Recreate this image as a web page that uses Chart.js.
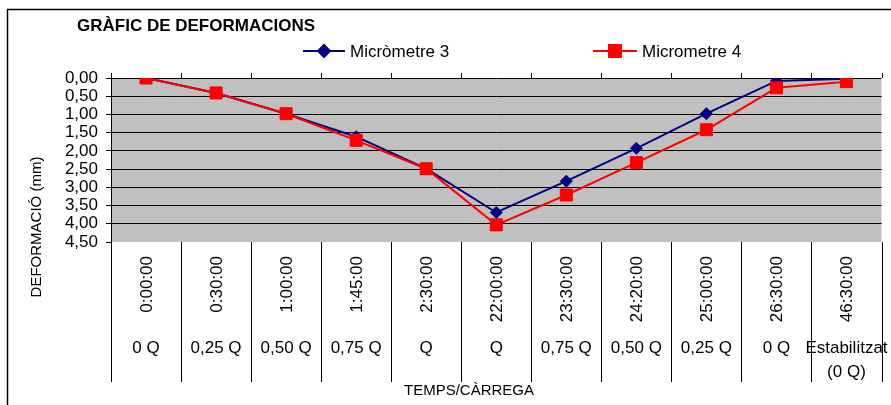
<!DOCTYPE html>
<html>
<head>
<meta charset="utf-8">
<script src="https://cdn.jsdelivr.net/npm/chart.js@4/dist/chart.umd.min.js"></script>
<style>
  html, body { margin:0; padding:0; background:#fff; }
  canvas { display:block; }
</style>
</head>
<body>
<canvas id="chart" width="891" height="405"></canvas>
<script>
// --- DATA ---
const TIMES = ['0:00:00','0:30:00','1:00:00','1:45:00','2:30:00','22:00:00','23:30:00','24:20:00','25:00:00','26:30:00','46:30:00'];
const LOADS = ['0 Q','0,25 Q','0,50 Q','0,75 Q','Q','Q','0,75 Q','0,50 Q','0,25 Q','0 Q',['Estabilitzat','(0 Q)']];
const MICRO3 = [0, 0.41, 0.98, 1.61, 2.49, 3.69, 2.83, 1.93, 0.98, 0.08, 0.02];
const MICRO4 = [0, 0.41, 0.98, 1.71, 2.49, 4.03, 3.21, 2.32, 1.42, 0.27, 0.10];
const Y_MIN = 0, Y_MAX = 4.5, Y_STEP = 0.5;

const FONT = '"Liberation Sans", Arial, sans-serif';
const BLUE = '#000080';
const RED = '#ff0000';

// plot background + custom category labels, titles, legend
const decor = {
  id: 'decor',
  beforeDraw(chart){
    const {ctx, chartArea:a} = chart;
    ctx.save();
    ctx.fillStyle = '#fff';
    ctx.fillRect(0, 0, chart.width, chart.height);
    ctx.fillStyle = '#c0c0c0';
    ctx.fillRect(a.left, a.top, a.right - a.left, a.bottom - a.top);
    ctx.restore();
  },
  afterDraw(chart){
    const {ctx, chartArea:a} = chart;
    const xs = chart.scales.x;
    const half = (xs.getPixelForTick(1) - xs.getPixelForTick(0)) / 2;
    ctx.save();

    // category boundaries: ticks above the plot, separators below
    ctx.strokeStyle = '#000';
    ctx.lineWidth = 1;
    for(let i = 0; i <= TIMES.length; i++){
      const x = Math.round((i < TIMES.length ? xs.getPixelForTick(i) - half : xs.getPixelForTick(i-1) + half)) + 0.5;
      ctx.beginPath();
      ctx.moveTo(x, a.top - 5);
      ctx.lineTo(x, a.top);
      ctx.moveTo(x, a.bottom);
      ctx.lineTo(x, 382);
      ctx.stroke();
    }

    // category labels
    ctx.fillStyle = '#000';
    ctx.font = '17px ' + FONT;
    TIMES.forEach((t, i) => {
      const cx = xs.getPixelForTick(i);
      ctx.save();
      ctx.translate(cx + 1, 256);
      ctx.rotate(-Math.PI/2);
      ctx.textAlign = 'right';
      ctx.textBaseline = 'middle';
      ctx.fillText(t, 0, 0);
      ctx.restore();
      const lines = [].concat(LOADS[i]);
      ctx.textAlign = 'center';
      ctx.textBaseline = 'middle';
      lines.forEach((l, j) => ctx.fillText(l, cx, 348 + j*24));
    });

    // chart title
    ctx.font = 'bold 17px ' + FONT;
    ctx.textAlign = 'left';
    ctx.textBaseline = 'alphabetic';
    ctx.fillText('GRÀFIC DE DEFORMACIONS', 77, 31);

    // axis titles
    ctx.font = '15px ' + FONT;
    ctx.textAlign = 'center';
    ctx.textBaseline = 'middle';
    ctx.fillText('TEMPS/CÀRREGA', 469, 391);
    ctx.save();
    ctx.translate(37, 227);
    ctx.rotate(-Math.PI/2);
    ctx.fillText('DEFORMACIÓ (mm)', 0, 0);
    ctx.restore();

    // legend
    const ds = chart.data.datasets;
    const leg = [{x0:303, x1:345, tx:350}, {x0:593, x1:637, tx:642}];
    ds.forEach((d, i) => {
      const L = leg[i], y = 51, mx = (L.x0 + L.x1) / 2;
      ctx.strokeStyle = d.borderColor;
      ctx.lineWidth = 2;
      ctx.beginPath(); ctx.moveTo(L.x0, y); ctx.lineTo(L.x1, y); ctx.stroke();
      Chart.helpers.drawPoint(ctx, {pointStyle:d.pointStyle, radius:d.pointRadius, borderWidth:1}, mx, y);
      ctx.fillStyle = d.borderColor;
      ctx.fill();
      ctx.fillStyle = '#000';
      ctx.font = '17px ' + FONT;
      ctx.textAlign = 'left';
      ctx.textBaseline = 'middle';
      ctx.fillText(d.label, L.tx, y + 1);
    });

    // outer frame
    ctx.strokeStyle = '#000';
    ctx.lineWidth = 1.5;
    ctx.beginPath();
    ctx.moveTo(7.5, chart.height);
    ctx.lineTo(7.5, 9.5);
    ctx.lineTo(chart.width, 9.5);
    ctx.stroke();
    ctx.restore();
  }
};

new Chart(document.getElementById('chart').getContext('2d'), {
  type: 'line',
  data: {
    labels: TIMES,
    datasets: [
      {label:'Micròmetre 3', data:MICRO3, borderColor:BLUE, backgroundColor:BLUE,
       pointStyle:'rectRot', pointRadius:6, pointBorderWidth:1, borderWidth:2, order:1},
      {label:'Micrometre 4', data:MICRO4, borderColor:RED, backgroundColor:RED,
       pointStyle:'rect', pointRadius:8.5, pointBorderWidth:1, borderWidth:2, order:0}
    ]
  },
  options: {
    responsive: false,
    animation: false,
    devicePixelRatio: 1,
    layout: {padding: {top:78, right:7, left:0, bottom:0}},
    plugins: {legend:{display:false}, title:{display:false}, tooltip:{enabled:false}},
    elements: {line:{tension:0}},
    scales: {
      x: {
        type: 'category',
        offset: true,
        grid: {display:false},
        border: {display:false},
        ticks: {display:false},
        afterFit: s => { s.height = 163; }
      },
      y: {
        reverse: true,
        min: Y_MIN, max: Y_MAX,
        ticks: {
          stepSize: Y_STEP, autoSkip: false, color:'#000', padding:8,
          font: {family:FONT, size:17},
          callback: v => v.toFixed(2).replace('.', ',')
        },
        grid: {
          color: c => (c.tick && c.tick.value === Y_MAX) ? 'rgba(0,0,0,0)' : '#000',
          tickColor: '#000', tickLength: 5, lineWidth: 1
        },
        border: {color:'#000', width:1},
        afterFit: s => { s.width = 111; }
      }
    }
  },
  plugins: [decor]
});
</script>
</body>
</html>
